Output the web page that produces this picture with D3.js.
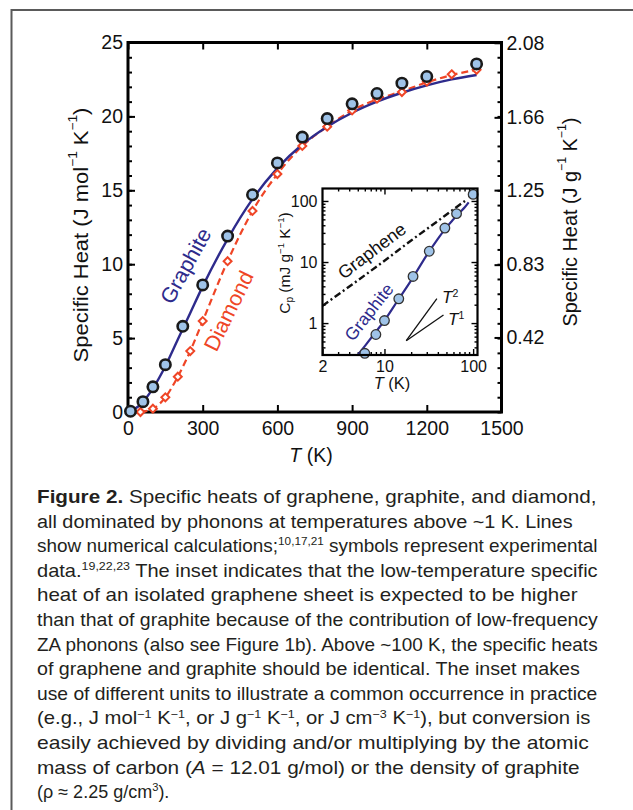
<!DOCTYPE html>
<html><head><meta charset="utf-8">
<script src="https://cdn.jsdelivr.net/npm/d3@7"></script>
<style>
body{margin:0;background:#fff}
svg{display:block}
text{font-family:"Liberation Sans",Arial,Helvetica,sans-serif}
</style>
</head><body>
<svg id="c" width="633" height="810"></svg>
<script>
// ---------------- data ----------------
// main panel: experimental points
const graphiteT = [10, 60, 100, 150, 220, 300, 400, 500, 600, 700, 800, 900, 1000, 1100, 1200, 1400];
const graphiteC = [0.05, 0.7, 1.7, 3.2, 5.8, 8.6, 11.9, 14.7, 16.85, 18.6, 19.85, 20.85, 21.55, 22.25, 22.7, 23.55];
const diamondT = [50, 100, 150, 200, 250, 300, 400, 500, 600, 700, 800, 900, 1000, 1100, 1200, 1300, 1400];
const diamondC = [0.0, 0.22, 0.99, 2.39, 4.12, 6.15, 10.2, 13.6, 16.1, 18.0, 19.3, 20.4, 21.2, 21.65, 22.35, 22.85, 23.15];
// main panel: calculations
const graphiteCalcT = [0, 50, 100, 150, 200, 250, 300, 400, 500, 600, 700, 800, 900, 1000, 1100, 1200, 1300, 1400];
const graphiteCalcC = [0, 0.5, 1.6, 3.1, 4.9, 6.7, 8.5, 11.7, 14.4, 16.5, 18.1, 19.3, 20.25, 21.0, 21.6, 22.1, 22.5, 22.8];
const diamondCalcT = [50, 100, 150, 200, 250, 300, 400, 500, 600, 700, 800, 900, 1000, 1100, 1200, 1300, 1400];
const diamondCalcC = [0.0, 0.22, 0.99, 2.39, 4.12, 6.15, 10.2, 13.6, 16.1, 18.0, 19.3, 20.4, 21.15, 21.7, 22.3, 22.8, 23.15];
// ticks
const xTicks = [0, 300, 600, 900, 1200, 1500];
const yTicks = [0, 5, 10, 15, 20, 25];
const yMinorTicks = d3.range(0, 26, 1);
const rightTickLabels = ["0.42", "0.83", "1.25", "1.66", "2.08"];
const molarMass = 12.01;
// inset
const insetGraphiteT = [6, 8, 10, 14.5, 21, 32, 48, 65, 100];
const insetGraphiteC = [0.32, 0.65, 1.1, 2.5, 5.8, 15, 36, 62, 128];
const insetGraphiteCalcT = [5, 6, 8, 10, 14, 20, 30, 40, 50, 60, 70, 80, 89];
const insetGraphiteCalcC = [0.3, 0.42, 0.72, 1.1, 2.3, 5.0, 13, 24, 37, 50, 64, 78, 95];
const insetGrapheneT = [2, 5, 10, 20, 40, 60, 81];
const insetGrapheneC = [1.92, 5.0, 10.5, 22.5, 47, 73, 100];
const insetXTicks = [2, 10, 100];
const insetYTicks = [1, 10, 100];
// caption
const captionLines = [
  [["Figure 2.", "b"], ["  Specific heats of graphene, graphite, and diamond,"]],
  [["all dominated by phonons at temperatures above ~1 K. Lines"]],
  [["show numerical calculations;"], ["10,17,21", "sup"], [" symbols represent experimental"]],
  [["data."], ["19,22,23", "sup"], [" The inset indicates that the low-temperature specific"]],
  [["heat of an isolated graphene sheet is expected to be higher"]],
  [["than that of graphite because of the contribution of low-frequency"]],
  [["ZA phonons (also see Figure 1b). Above ~100 K, the specific heats"]],
  [["of graphene and graphite should be identical. The inset makes"]],
  [["use of different units to illustrate a common occurrence in practice"]],
  [["(e.g., J mol"], ["\u22121", "sup"], [" K"], ["\u22121", "sup"], [", or J g"], ["\u22121", "sup"], [" K"], ["\u22121", "sup"], [", or J cm"], ["\u22123", "sup"], [" K"], ["\u22121", "sup"], ["), but conversion is"]],
  [["easily achieved by dividing and/or multiplying by the atomic"]],
  [["mass of carbon ("], ["A", "i"], [" = 12.01 g/mol) or the density of graphite"]],
  [["(\u03c1 \u2248 2.25 g/cm"], ["3", "sup"], [")."]]
];
const captionWidths = [560, 536, 561, 561, 541, 561, 561, 543, 561, 554, 552, 543, null];

// ---------------- drawing ----------------
const svg = d3.select("#c");
const NAVY = "#2e2b8c", RED = "#ef4526", FILL = "#9fc3e8";
const TICKFS = 19.5;

// frame
svg.append("path").attr("d", "M11.5,810 V10 H633").attr("fill", "none").attr("stroke", "#5a5a5a").attr("stroke-width", 2);

const x = d3.scaleLinear().domain([0, 1500]).range([128, 501.5]);
const y = d3.scaleLinear().domain([0, 25]).range([412, 42.5]);
const yR = d3.scaleLinear().domain([0, 25 / molarMass]).range([412, 42.5]);

function styleAxis(g, fs) {
  g.select(".domain").remove();
  g.selectAll(".tick line").attr("stroke", "#000").attr("stroke-width", 2);
  g.selectAll(".tick text").attr("font-size", fs).attr("fill", "#111").attr("font-family", "Liberation Sans, Arial, sans-serif");
}

// minor ticks
svg.append("g").attr("transform", `translate(${x(0)},0)`)
  .call(d3.axisLeft(y).tickValues(yMinorTicks).tickSize(-4).tickFormat(""))
  .call(g => styleAxis(g, TICKFS));
svg.append("g").attr("transform", `translate(${x(1500)},0)`)
  .call(d3.axisRight(yR).tickValues(yMinorTicks.map(v => v / molarMass)).tickSize(-4).tickFormat(""))
  .call(g => styleAxis(g, TICKFS));
// major
svg.append("g").attr("transform", `translate(${x(0)},0)`)
  .call(d3.axisLeft(y).tickValues(yTicks).tickSize(-7).tickPadding(5).tickFormat(d3.format("d")))
  .call(g => styleAxis(g, TICKFS));
svg.append("g").attr("transform", `translate(${x(1500)},0)`)
  .call(d3.axisRight(yR).tickValues(rightTickLabels.map(Number)).tickSize(-7).tickPadding(5).tickFormat((d, i) => rightTickLabels[i]))
  .call(g => styleAxis(g, TICKFS));
svg.append("g").attr("transform", `translate(0,${y(0)})`)
  .call(d3.axisBottom(x).tickValues(xTicks).tickSize(-7).tickPadding(9).tickFormat(d3.format("d")))
  .call(g => styleAxis(g, TICKFS));
svg.append("g").attr("transform", `translate(0,${y(25)})`)
  .call(d3.axisTop(x).tickValues(xTicks).tickSize(-7).tickFormat(""))
  .call(g => styleAxis(g, TICKFS));
// frame
svg.append("rect").attr("x", x(0)).attr("y", y(25)).attr("width", x(1500) - x(0)).attr("height", y(0) - y(25))
  .attr("fill", "none").attr("stroke", "#000").attr("stroke-width", 3);

// rich text helper
function richText(sel, segs, fs) {
  let shift = 0;
  segs.forEach(([t, s]) => {
    const ts = sel.append("tspan").text(t);
    let target = 0;
    if (s === "sup") { ts.attr("font-size", fs * 0.62); target = -fs * 0.38; }
    else if (s === "sub") { ts.attr("font-size", fs * 0.65); target = fs * 0.22; }
    if (s === "b") ts.attr("font-weight", "bold");
    if (s === "i") ts.attr("font-style", "italic");
    if (target !== shift) { ts.attr("dy", target - shift); shift = target; }
  });
  return sel;
}
// rotated title fitted to a length
function vTitle(cx, cy, segs, fs, len) {
  const t = svg.append("text").attr("text-anchor", "middle").attr("font-size", fs).attr("fill", "#111")
    .attr("dominant-baseline", "central");
  richText(t, segs, fs);
  const w = t.node().getBBox().width;
  t.attr("transform", `translate(${cx},${cy}) rotate(-90) scale(${len / w},1)`);
}
vTitle(80, 235, [["Specific Heat (J mol"], ["\u22121", "sup"], [" K"], ["\u22121", "sup"], [")"]], 20, 255);
vTitle(570, 222, [["Specific Heat (J g"], ["\u22121", "sup"], [" K"], ["\u22121", "sup"], [")"]], 20, 209);
svg.append("text").attr("x", 311).attr("y", 462).attr("text-anchor", "middle").attr("font-size", 19.5).attr("fill", "#111")
  .call(t => richText(t, [["T", "i"], [" (K)"]], 19.5));

// lines
const lineMain = d3.line().x(d => x(d[0])).y(d => y(d[1])).curve(d3.curveMonotoneX);
svg.append("path").datum(diamondCalcT.map((t, i) => [t, diamondCalcC[i]]))
  .attr("d", lineMain).attr("fill", "none").attr("stroke", RED).attr("stroke-width", 2.2).attr("stroke-dasharray", "7,4");
svg.append("path").datum(graphiteCalcT.map((t, i) => [t, graphiteCalcC[i]]))
  .attr("d", lineMain).attr("fill", "none").attr("stroke", NAVY).attr("stroke-width", 2.4);

// markers
svg.append("g").selectAll("path").data(diamondT.map((t, i) => [t, diamondC[i]])).join("path")
  .attr("d", d3.symbol(d3.symbolDiamond2, 40))
  .attr("transform", d => `translate(${x(d[0])},${y(d[1])})`)
  .attr("fill", "#fff").attr("stroke", RED).attr("stroke-width", 2);
svg.append("g").selectAll("circle").data(graphiteT.map((t, i) => [t, graphiteC[i]])).join("circle")
  .attr("cx", d => x(d[0])).attr("cy", d => y(d[1])).attr("r", 5.2)
  .attr("fill", FILL).attr("stroke", "#1a1a1a").attr("stroke-width", 2.6);

// curve labels
svg.append("text").attr("transform", "translate(186,266) rotate(-61)").attr("text-anchor", "middle")
  .attr("dominant-baseline", "central").attr("font-size", 21.5).attr("fill", NAVY).text("Graphite");
svg.append("text").attr("transform", "translate(229,311) rotate(-64)").attr("text-anchor", "middle")
  .attr("dominant-baseline", "central").attr("font-size", 21.5).attr("fill", RED).text("Diamond");

// ---------------- inset ----------------
const ix = d3.scaleLog().domain([2, 112]).range([322.5, 477.5]);
const iy = d3.scaleLog().domain([0.3, 160]).range([355, 188.5]);
const inset = svg.append("g");
inset.append("rect").attr("x", ix.range()[0]).attr("y", iy.range()[1])
  .attr("width", ix.range()[1] - ix.range()[0]).attr("height", iy.range()[0] - iy.range()[1]).attr("fill", "#fff");
svg.append("clipPath").attr("id", "ic").append("rect")
  .attr("x", ix.range()[0]).attr("y", iy.range()[1])
  .attr("width", ix.range()[1] - ix.range()[0]).attr("height", iy.range()[0] - iy.range()[1]);

const ixMinor = [3, 4, 5, 6, 7, 8, 9, 20, 30, 40, 50, 60, 70, 80, 90];
const iyMinor = [0.4, 0.5, 0.6, 0.7, 0.8, 0.9, 2, 3, 4, 5, 6, 7, 8, 9, 20, 30, 40, 50, 60, 70, 80, 90];
function istyle(g) { styleAxis(g, 16); g.selectAll(".tick line").attr("stroke-width", 1.4); }
inset.append("g").attr("transform", `translate(0,${iy.range()[0]})`)
  .call(d3.axisBottom(ix).tickValues(ixMinor).tickSize(-3).tickFormat("")).call(istyle);
inset.append("g").attr("transform", `translate(0,${iy.range()[1]})`)
  .call(d3.axisTop(ix).tickValues(ixMinor).tickSize(-3).tickFormat("")).call(istyle);
inset.append("g").attr("transform", `translate(${ix.range()[0]},0)`)
  .call(d3.axisLeft(iy).tickValues(iyMinor).tickSize(-3).tickFormat("")).call(istyle);
inset.append("g").attr("transform", `translate(${ix.range()[1]},0)`)
  .call(d3.axisRight(iy).tickValues(iyMinor).tickSize(-3).tickFormat("")).call(istyle);
inset.append("g").attr("transform", `translate(0,${iy.range()[0]})`)
  .call(d3.axisBottom(ix).tickValues(insetXTicks).tickSize(-6).tickPadding(6).tickFormat(d3.format("d"))).call(istyle);
inset.append("g").attr("transform", `translate(0,${iy.range()[1]})`)
  .call(d3.axisTop(ix).tickValues([10, 100]).tickSize(-6).tickFormat("")).call(istyle);
inset.append("g").attr("transform", `translate(${ix.range()[0]},0)`)
  .call(d3.axisLeft(iy).tickValues(insetYTicks).tickSize(-6).tickPadding(5).tickFormat(d3.format("d"))).call(istyle);
inset.append("g").attr("transform", `translate(${ix.range()[1]},0)`)
  .call(d3.axisRight(iy).tickValues(insetYTicks).tickSize(-6).tickFormat("")).call(istyle);

const lineIn = d3.line().x(d => ix(d[0])).y(d => iy(d[1])).curve(d3.curveMonotoneX);
const cl = inset.append("g").attr("clip-path", "url(#ic)");
cl.append("path").datum(insetGrapheneT.map((t, i) => [t, insetGrapheneC[i]]))
  .attr("d", lineIn).attr("fill", "none").attr("stroke", "#111").attr("stroke-width", 2.4).attr("stroke-dasharray", "7,3,2,3");
cl.append("path").datum(insetGraphiteCalcT.map((t, i) => [t, insetGraphiteCalcC[i]]))
  .attr("d", lineIn).attr("fill", "none").attr("stroke", NAVY).attr("stroke-width", 2.2);

// slope guides T^2 and T^1 from a common origin
const gT0 = 17.6, gC0 = 0.514;
const guideEnds = [[39, 2], [46.3, 1]];
guideEnds.forEach(([t1, p]) => {
  inset.append("line").attr("x1", ix(gT0)).attr("y1", iy(gC0)).attr("x2", ix(t1)).attr("y2", iy(gC0 * Math.pow(t1 / gT0, p)))
    .attr("stroke", "#111").attr("stroke-width", 1.3);
});
inset.append("text").attr("x", 442).attr("y", 303).attr("font-size", 17).attr("fill", "#111")
  .call(t => richText(t, [["T", "i"], ["2", "sup"]], 17));
inset.append("text").attr("x", 448).attr("y", 325).attr("font-size", 17).attr("fill", "#111")
  .call(t => richText(t, [["T", "i"], ["1", "sup"]], 17));

inset.append("g").selectAll("circle").data(insetGraphiteT.map((t, i) => [t, insetGraphiteC[i]])).join("circle")
  .attr("cx", d => ix(d[0])).attr("cy", d => iy(d[1])).attr("r", 4.8)
  .attr("fill", FILL).attr("stroke", "#333").attr("stroke-width", 1.3);

inset.append("rect").attr("x", ix.range()[0]).attr("y", iy.range()[1])
  .attr("width", ix.range()[1] - ix.range()[0]).attr("height", iy.range()[0] - iy.range()[1])
  .attr("fill", "none").attr("stroke", "#000").attr("stroke-width", 2.2);

inset.append("text").attr("transform", "translate(372,251) rotate(-37)").attr("text-anchor", "middle")
  .attr("dominant-baseline", "central").attr("font-size", 18).attr("fill", "#111").text("Graphene");
inset.append("text").attr("transform", "translate(369,312) rotate(-52)").attr("text-anchor", "middle")
  .attr("dominant-baseline", "central").attr("font-size", 17.5).attr("fill", NAVY).text("Graphite");
inset.append("text").attr("transform", "translate(290,263) rotate(-90)").attr("text-anchor", "middle")
  .attr("font-size", 15.5).attr("fill", "#111")
  .call(t => richText(t, [["C"], ["p", "sub"], [" (mJ g"], ["\u22121", "sup"], [" K"], ["\u22121", "sup"], [")"]], 15.5));
inset.append("text").attr("x", 392).attr("y", 389).attr("text-anchor", "middle").attr("font-size", 16.5).attr("fill", "#111")
  .call(t => richText(t, [["T", "i"], [" (K)"]], 16.5));

// ---------------- caption ----------------
const cap = svg.append("g");
captionLines.forEach((segs, i) => {
  const yy = 503 + i * 24.6;
  const t = cap.append("text").attr("x", 0).attr("y", 0).attr("font-size", 18).attr("fill", "#231f20")
    .attr("transform", `translate(37,${yy})`);
  richText(t, segs, 18);
  const w = t.node().getBBox().width;
  const target = captionWidths[i];
  const s = target ? target / w : Math.min(1, 176 / w);
  t.attr("transform", `translate(37,${yy}) scale(${s},1)`);
});
</script>
</body></html>
